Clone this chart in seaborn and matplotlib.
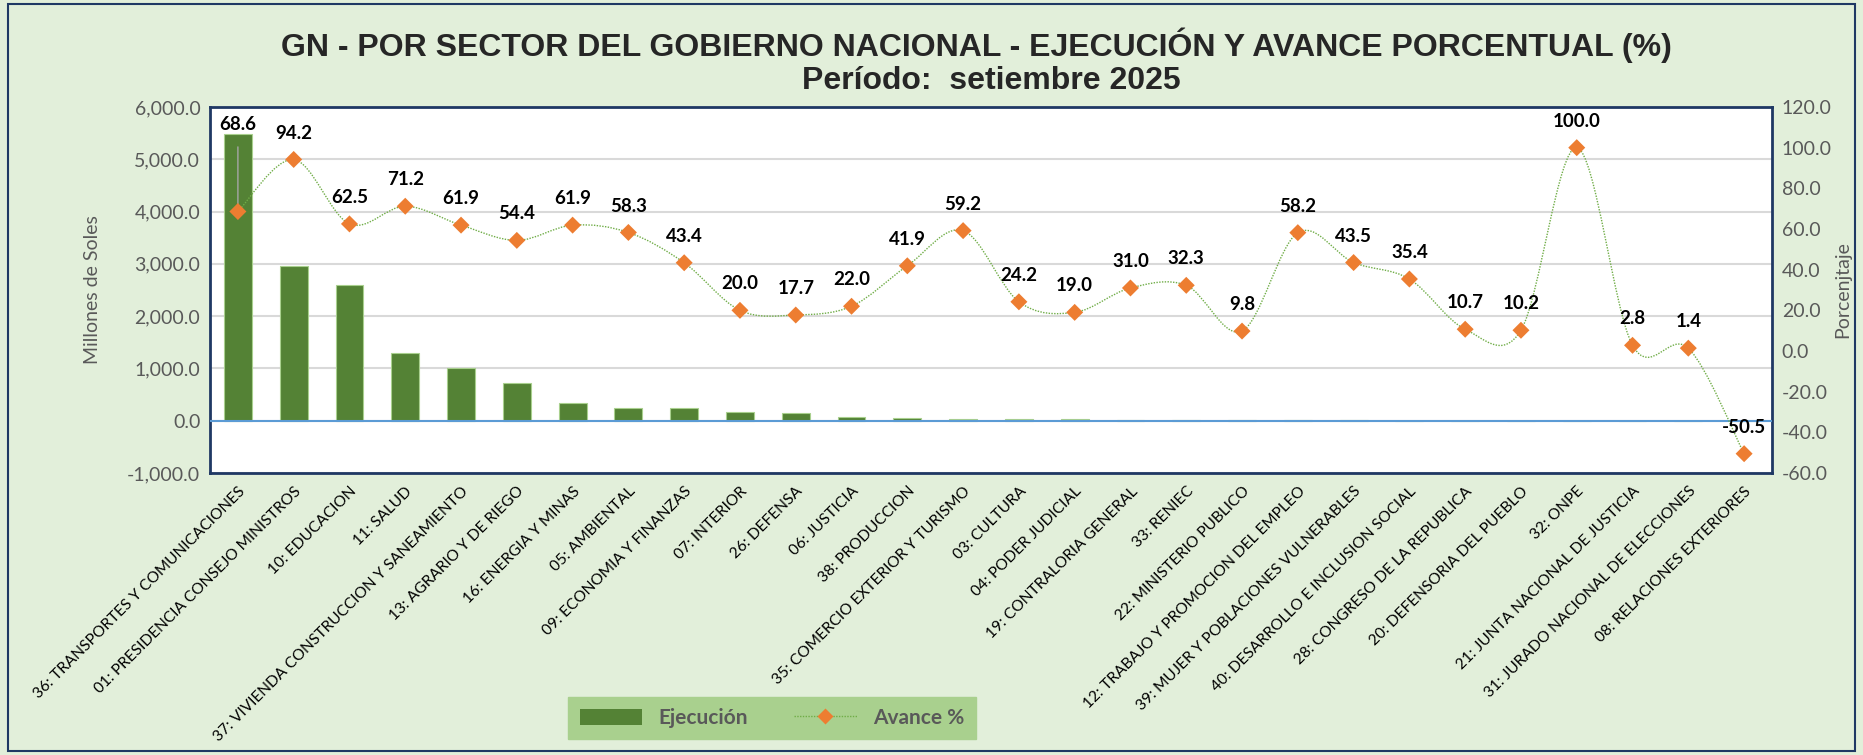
import numpy as np
import pandas as pd
import seaborn as sns
import matplotlib.pyplot as plt
from matplotlib.path import Path
from matplotlib.patches import PathPatch, Rectangle, Patch
from matplotlib.lines import Line2D
from matplotlib.ticker import FuncFormatter, MultipleLocator

sectores = [
    "36: TRANSPORTES Y COMUNICACIONES", "01: PRESIDENCIA CONSEJO MINISTROS",
    "10: EDUCACION", "11: SALUD", "37: VIVIENDA CONSTRUCCION Y SANEAMIENTO",
    "13: AGRARIO Y DE RIEGO", "16: ENERGIA Y MINAS", "05: AMBIENTAL",
    "09: ECONOMIA Y FINANZAS", "07: INTERIOR", "26: DEFENSA", "06: JUSTICIA",
    "38: PRODUCCION", "35: COMERCIO EXTERIOR Y TURISMO", "03: CULTURA",
    "04: PODER JUDICIAL", "19: CONTRALORIA GENERAL", "33: RENIEC",
    "22: MINISTERIO PUBLICO", "12: TRABAJO Y PROMOCION DEL EMPLEO",
    "39: MUJER Y POBLACIONES VULNERABLES", "40: DESARROLLO E INCLUSION SOCIAL",
    "28: CONGRESO DE LA REPUBLICA", "20: DEFENSORIA DEL PUEBLO", "32: ONPE",
    "21: JUNTA NACIONAL DE JUSTICIA", "31: JURADO NACIONAL DE ELECCIONES",
    "08: RELACIONES EXTERIORES",
]
# millones de soles
ejecucion = [5490, 2950, 2600, 1300, 1010, 720, 330, 245, 238, 170, 140, 80,
             45, 42, 40, 40, 10, 8, 6, 5, 5, 4, 4, 3, 3, 2, 2, 1]
# avance %
avance = [68.6, 94.2, 62.5, 71.2, 61.9, 54.4, 61.9, 58.3, 43.4, 20.0, 17.7,
          22.0, 41.9, 59.2, 24.2, 19.0, 31.0, 32.3, 9.8, 58.2, 43.5, 35.4,
          10.7, 10.2, 100.0, 2.8, 1.4, -50.5]

df = pd.DataFrame({"sector": sectores, "ejecucion": ejecucion, "avance": avance})
n = len(df)

sns.set_theme(style="white")
plt.rcParams['font.family'] = ['Lato', 'DejaVu Sans']
narrow = ['Liberation Sans Narrow', 'Liberation Sans', 'DejaVu Sans']
gris = '#595959'
navy = '#1F3864'

fig = plt.figure(figsize=(18.63, 7.55), dpi=100, facecolor='#E2EFDA')
ax = fig.add_axes([210 / 1863, 1 - 473 / 755, 1562 / 1863, 366 / 755])

sns.barplot(data=df, x="sector", y="ejecucion", color='#548235', saturation=1,
            width=0.5, edgecolor='#A9D08E', linewidth=0.8, ax=ax, zorder=2)
ax.set_ylim(-1000, 6000)
ax.yaxis.set_major_locator(MultipleLocator(1000))
ax.yaxis.set_major_formatter(FuncFormatter(lambda v, p: f"{v:,.1f}"))
ax.yaxis.grid(True, color='#D9D9D9', lw=1.5)
ax.set_axisbelow(True)
ax.axhline(0, color='#5B9BD5', lw=1.5, zorder=3)
ax.set_xlim(-0.5, n - 0.5)
ax.set_xlabel("")
ax.set_ylabel("Millones de Soles", color=gris, fontsize=14)
ax.yaxis.set_label_coords(-0.07, 0.5)
ax.tick_params(axis='y', labelsize=14, colors=gris, length=0, pad=7)
ax.tick_params(axis='x', length=0, pad=8)
ax.set_xticks(range(n))
ax.set_xticklabels(sectores, rotation=45, ha='right', rotation_mode='anchor',
                   fontsize=11.2, color='black')
for s in ax.spines.values():
    s.set_color(navy)
    s.set_linewidth(2)

ax2 = ax.twinx()
ax2.set_ylim(-60, 120)
ax2.yaxis.set_major_locator(MultipleLocator(20))
ax2.yaxis.set_major_formatter(FuncFormatter(lambda v, p: f"{v:.1f}"))
ax2.tick_params(axis='y', labelsize=14, colors=gris, length=0, pad=7)
ax2.set_ylabel("Porcenjtaje", color=gris, fontsize=14)
ax2.yaxis.set_label_coords(1.04, 0.5)
for s in ax2.spines.values():
    s.set_visible(False)

# smoothed connector (bezier control points from neighbouring values)
xs = np.arange(n, dtype=float)
ys = np.array(avance, dtype=float)
verts = [(xs[0], ys[0])]
codes = [Path.MOVETO]
for i in range(n - 1):
    i0, i3 = max(i - 1, 0), min(i + 2, n - 1)
    c1 = (xs[i] + (xs[i + 1] - xs[i0]) / 6, ys[i] + (ys[i + 1] - ys[i0]) / 6)
    c2 = (xs[i + 1] - (xs[i3] - xs[i]) / 6, ys[i + 1] - (ys[i3] - ys[i]) / 6)
    verts += [c1, c2, (xs[i + 1], ys[i + 1])]
    codes += [Path.CURVE4] * 3
ax2.add_patch(PathPatch(Path(verts, codes), fill=False, ec='#70AD47',
                        lw=1.0, ls=(0, (1, 1)), zorder=3))
sns.scatterplot(x=xs, y=ys, marker='D', s=75, color='#ED7D31',
                edgecolor='none', ax=ax2, zorder=4)
ax2.set_xlim(-0.5, n - 0.5)

for i, v in enumerate(avance):
    if i == 0:
        ax2.annotate(f"{v:.1f}", (i, v), xytext=(0, 63), textcoords='offset points',
                     ha='center', va='center', fontsize=13.5, fontweight='bold',
                     color='black',
                     arrowprops=dict(arrowstyle='-', color='#A6A6A6', lw=1,
                                     shrinkA=8, shrinkB=4))
    else:
        ax2.annotate(f"{v:.1f}", (i, v), xytext=(0, 19), textcoords='offset points',
                     ha='center', va='center', fontsize=13.5, fontweight='bold',
                     color='black')

fig.text(0.524, 1 - 45 / 755,
         "GN - POR SECTOR DEL GOBIERNO NACIONAL - EJECUCIÓN Y AVANCE PORCENTUAL (%)",
         ha='center', va='center', fontsize=23, fontweight='bold', family=narrow)
fig.text(0.532, 1 - 81 / 755, "Período:  setiembre 2025",
         ha='center', va='center', fontsize=23, fontweight='bold', family=narrow)

handles = [Patch(facecolor='#548235', edgecolor='none'),
           Line2D([0], [0], color='#70AD47', lw=1, ls=(0, (1, 1)), marker='D',
                  markersize=8, markerfacecolor='#ED7D31', markeredgecolor='none')]
leg = fig.legend(handles, ["Ejecución", "Avance %"], loc='center',
                 bbox_to_anchor=(772 / 1863, 1 - 718 / 755), ncol=2,
                 frameon=True, facecolor='#A9D08E', edgecolor='#A9D08E',
                 framealpha=1, fancybox=False, handlelength=3.0, handleheight=0.8,
                 columnspacing=2.2, borderpad=0.55, fontsize=15)
for t in leg.get_texts():
    t.set_color(gris)
    t.set_fontweight('bold')

fig.add_artist(Rectangle((8 / 1863, 4 / 755), 1847 / 1863, 747 / 755,
                         transform=fig.transFigure, fill=False, ec=navy, lw=1.5))

fig.savefig('out.png', dpi=100, facecolor=fig.get_facecolor())
